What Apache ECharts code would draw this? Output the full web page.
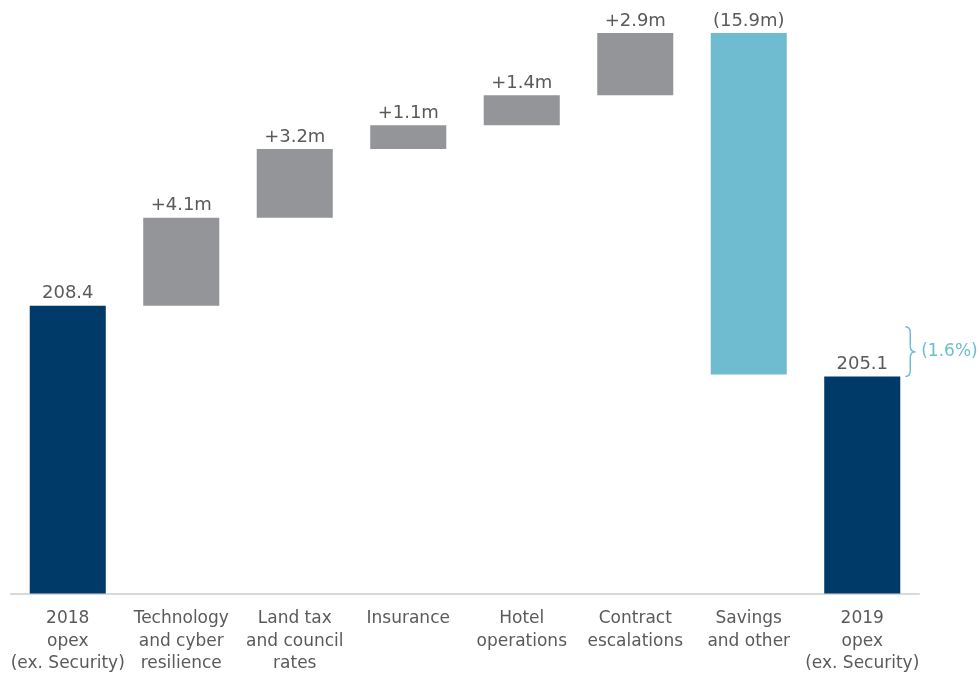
<!DOCTYPE html>
<html><head><meta charset="utf-8">
<script src="https://cdn.jsdelivr.net/npm/echarts@6/dist/echarts.min.js"></script>
<style>html,body{margin:0;padding:0;background:#fff}#c{width:979px;height:675px}</style>
</head><body><div id="c"></div>
<script>
const categories = ['2018\nopex\n(ex. Security)', 'Technology\nand cyber\nresilience', 'Land tax\nand council\nrates', 'Insurance', 'Hotel\noperations', 'Contract\nescalations', 'Savings\nand other', '2019\nopex\n(ex. Security)'];
const startValue = 208.4;
const deltas = [4.1, 3.2, 1.1, 1.4, 2.9, -15.9];
const endValue = 205.1;
const valueLabels = ['208.4', '+4.1m', '+3.2m', '+1.1m', '+1.4m', '+2.9m', '(15.9m)', '205.1'];
const changeLabel = '(1.6%)';

const NAVY = '#003A69', GREY = '#939598', BLUE = '#6FBCD1', TXT = '#5A5A5A';
const base = [], vis = [];
base.push(0); vis.push({value: startValue, itemStyle: {color: NAVY}});
let run = startValue;
deltas.forEach(d => {
  if (d >= 0) { base.push(run); vis.push({value: d, itemStyle: {color: GREY}}); run += d; }
  else { run += d; base.push(run); vis.push({value: -d, itemStyle: {color: BLUE}}); }
});
const peak = startValue + deltas.filter(d => d > 0).reduce((a, b) => a + b, 0);
base.push(0); vis.push({value: endValue, itemStyle: {color: NAVY}});

const chart = echarts.init(document.getElementById('c'));
const font = '"DejaVu Sans", sans-serif';
chart.setOption({
  animation: false,
  grid: {left: 11, right: 60, top: 33, bottom: 77},
  xAxis: {
    type: 'category', data: categories,
    axisLine: {lineStyle: {color: '#D9D9D9', width: 2}},
    axisTick: {show: false},
    axisLabel: {interval: 0, color: TXT, fontSize: 17, fontFamily: font, lineHeight: 22.5, margin: 14}
  },
  yAxis: {type: 'value', min: 195, max: peak, show: false, splitLine: {show: false}},
  series: [
    {type: 'bar', stack: 'w', data: base, itemStyle: {color: 'transparent'}, barWidth: '67%', silent: true},
    {type: 'bar', stack: 'w', data: vis, barWidth: '67%',
     label: {show: true, position: 'top', distance: 3, color: TXT, fontSize: 18, fontFamily: font,
       formatter: p => valueLabels[p.dataIndex]}}
  ]
});

// brace + change label beside the last bar
const n = categories.length - 1;
const pTop = chart.convertToPixel({gridIndex: 0}, [n, startValue]);
const pBot = chart.convertToPixel({gridIndex: 0}, [n, endValue]);
const bw = 113.4 * 0.67;
const x0 = pTop[0] + bw / 2 + 5, y0 = pTop[1] + 21, y1 = pBot[1];
const ym = (y0 + y1) / 2, w = 5, r = 6;
const ls = {stroke: BLUE, lineWidth: 1.5, fill: null};
const q = (ax, ay, cx, cy, bx, by) => ({type: 'bezierCurve', shape: {x1: ax, y1: ay, cpx1: cx, cpy1: cy, x2: bx, y2: by}, style: ls});
const l = (ax, ay, bx, by) => ({type: 'line', shape: {x1: ax, y1: ay, x2: bx, y2: by}, style: ls});
chart.setOption({graphic: [
  q(x0, y0, x0 + w, y0, x0 + w, y0 + r),
  l(x0 + w, y0 + r, x0 + w, ym - r),
  q(x0 + w, ym - r, x0 + w, ym, x0 + 2 * w, ym),
  q(x0 + 2 * w, ym, x0 + w, ym, x0 + w, ym + r),
  l(x0 + w, ym + r, x0 + w, y1 - r),
  q(x0 + w, y1 - r, x0 + w, y1, x0, y1),
  {type: 'text', x: x0 + 2 * w + 6, y: ym, style: {text: changeLabel, fill: BLUE, font: '17px ' + font, textVerticalAlign: 'middle'}}
]});
</script></body></html>
